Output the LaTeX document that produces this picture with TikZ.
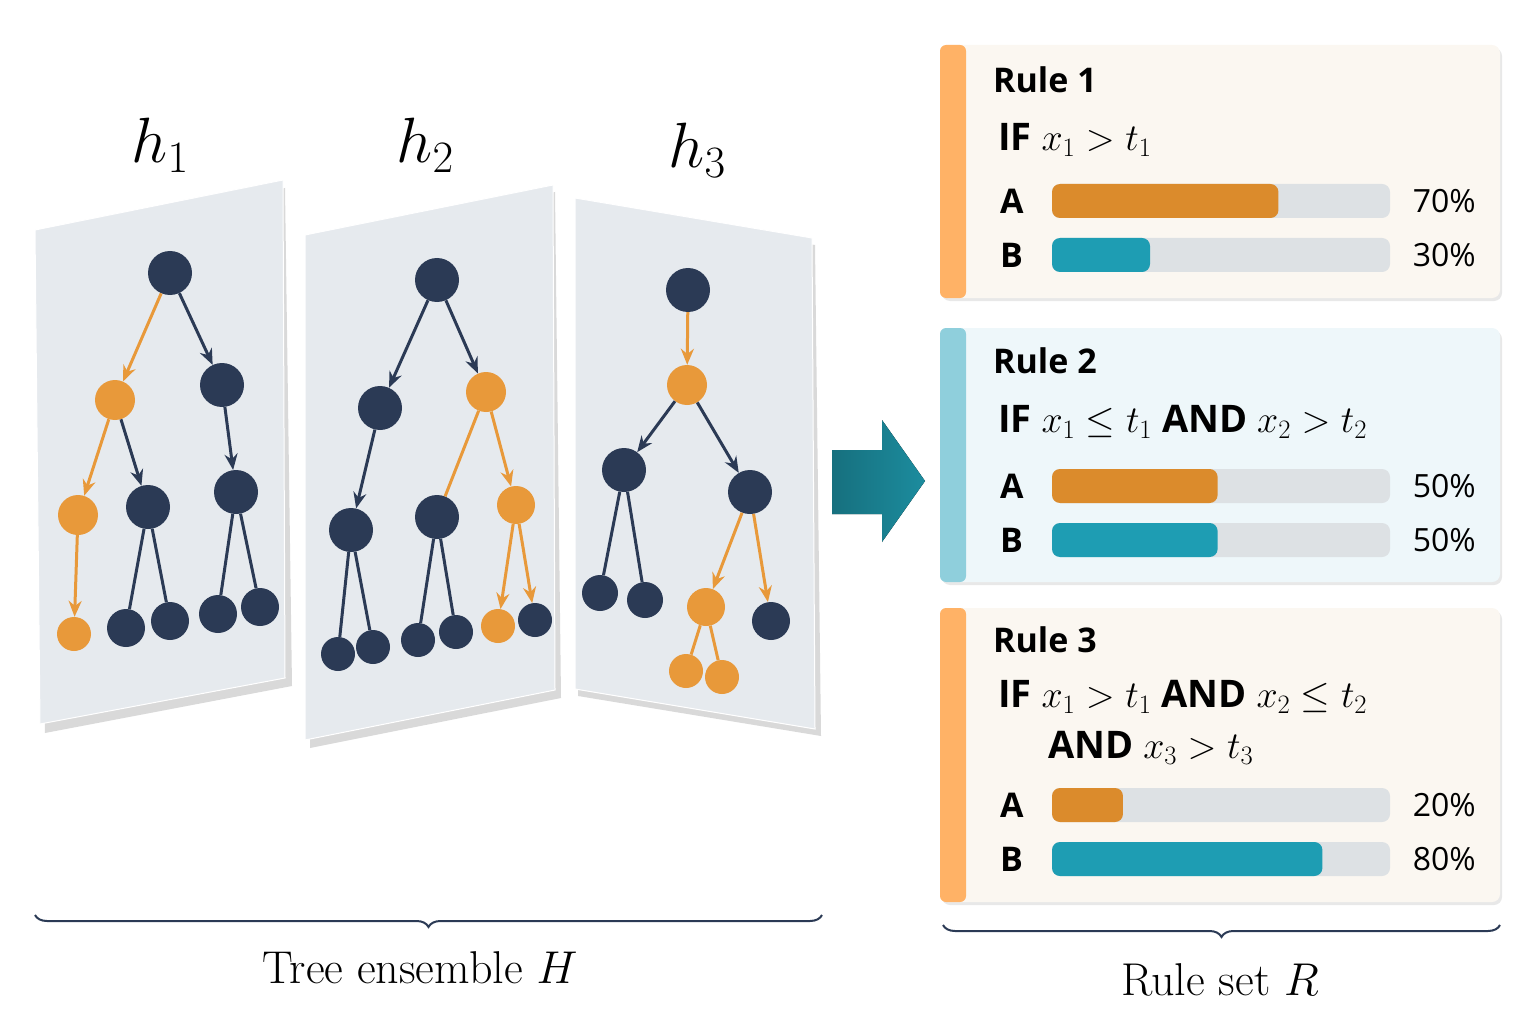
\RequirePackage{fix-cm}
\documentclass[tikz,border=0pt]{standalone}
\usepackage{amsmath}
\usepackage{fontspec}
\setsansfont{Open Sans}
\usepackage{tikz}
\usetikzlibrary{arrows.meta}
\usetikzlibrary{decorations.pathreplacing}
\usetikzlibrary{shadows}

\definecolor{navy}{HTML}{2B3A55}
\definecolor{amber}{HTML}{E8993A}
\definecolor{barorange}{HTML}{DB8B2C}
\definecolor{barteal}{HTML}{1E9DB3}
\definecolor{track}{HTML}{DDE1E4}
\definecolor{panel}{HTML}{E6EAEE}
\definecolor{cream}{HTML}{FBF7F1}
\definecolor{icecard}{HTML}{EEF7FA}
\definecolor{stripteal}{HTML}{8FCFDC}
\definecolor{tealarrow}{HTML}{1C8C9E}

\tikzset{
  dark/.style={circle, fill=navy, minimum size=44pt, inner sep=0pt},
  hot/.style={circle, fill=amber, minimum size=40pt, inner sep=0pt},
  darr/.style={draw=navy, line width=3pt, -{Stealth[length=16pt,width=13pt]}},
  oarr/.style={draw=amber, line width=3pt, -{Stealth[length=16pt,width=13pt]}},
  dline/.style={draw=navy, line width=3pt},
  oline/.style={draw=amber, line width=3pt},
  card/.style={rounded corners=8pt, drop shadow={opacity=0.18, shadow xshift=2pt, shadow yshift=-3pt}},
  ruletext/.style={anchor=west, font=\sffamily\bfseries\fontsize{34}{40}\selectfont, inner sep=0pt},
  condtext/.style={anchor=west, font=\sffamily\bfseries\fontsize{38}{46}\selectfont, inner sep=0pt},
  pct/.style={anchor=east, font=\sffamily\fontsize{32}{38}\selectfont, inner sep=0pt},
  hlabel/.style={font=\fontsize{64}{70}\selectfont},
  bottomlabel/.style={font=\fontsize{46}{52}\selectfont},
}

\begin{document}
\begin{tikzpicture}[x=1pt, y=-1pt]
        \useasboundingbox (0,0) rectangle (1536,1024);

        % panels
        \fill[gray!30] (40,238) -- (285,188) -- (292,686) -- (45,733) -- cycle;
        \fill[panel, draw=white, line width=1pt] (35,230) -- (283,180) -- (285,678) -- (40,724) -- cycle;
        \fill[gray!30] (310,242) -- (555,192) -- (561,698) -- (310,748) -- cycle;
        \fill[panel, draw=white, line width=1pt] (305,235) -- (553,185) -- (555,690) -- (305,740) -- cycle;
        \fill[gray!30] (578,206) -- (815,245) -- (821,736) -- (578,696) -- cycle;
        \fill[panel, draw=white, line width=1pt] (575,198) -- (812,238) -- (815,729) -- (575,689) -- cycle;

        \node[hlabel] (h1) at (160,145) {$h_1$};
        \node[hlabel] (h2) at (425,145) {$h_2$};
        \node[hlabel] (h3) at (697,150) {$h_3$};

        % tree 1
        \node[dark] (a0) at (170,273) {};
        \node[hot] (a1) at (115,400) {};
        \node[dark] (a2) at (222,385) {};
        \node[hot] (a3) at (78,515) {};
        \node[dark] (a4) at (148,507) {};
        \node[hot, minimum size=34pt] (a5) at (74,634) {};
        \node[dark, minimum size=38pt] (a6) at (126,628) {};
        \node[dark, minimum size=38pt] (a7) at (170,621) {};
        \node[dark] (a8) at (236,492) {};
        \node[dark, minimum size=38pt] (a9) at (218,614) {};
        \node[dark, minimum size=38pt] (a10) at (260,607) {};
        \draw[oarr] (a0) -- (a1);
        \draw[darr] (a0) -- (a2);
        \draw[oarr] (a1) -- (a3);
        \draw[darr] (a1) -- (a4);
        \draw[oarr] (a3) -- (a5);
        \draw[dline] (a4) -- (a6);
        \draw[dline] (a4) -- (a7);
        \draw[darr] (a2) -- (a8);
        \draw[dline] (a8) -- (a9);
        \draw[dline] (a8) -- (a10);

        % tree 2
        \node[dark] (b0) at (437,280) {};
        \node[dark] (b1) at (380,408) {};
        \node[hot] (b2) at (486,392) {};
        \node[dark] (b3) at (351,530) {};
        \node[dark, minimum size=34pt] (b4) at (338,654) {};
        \node[dark, minimum size=34pt] (b5) at (373,647) {};
        \node[dark] (b6) at (437,517) {};
        \node[dark, minimum size=34pt] (b7) at (418,640) {};
        \node[dark, minimum size=34pt] (b8) at (456,632) {};
        \node[hot, minimum size=38pt] (b9) at (516,505) {};
        \node[hot, minimum size=34pt] (b10) at (498,626) {};
        \node[dark, minimum size=34pt] (b11) at (535,620) {};
        \draw[darr] (b0) -- (b1);
        \draw[darr] (b0) -- (b2);
        \draw[darr] (b1) -- (b3);
        \draw[dline] (b3) -- (b4);
        \draw[dline] (b3) -- (b5);
        \draw[oline] (b2) -- (b6);
        \draw[oarr] (b2) -- (b9);
        \draw[dline] (b6) -- (b7);
        \draw[dline] (b6) -- (b8);
        \draw[oarr] (b9) -- (b10);
        \draw[oarr] (b9) -- (b11);

        % tree 3
        \node[dark] (c0) at (688,290) {};
        \node[hot] (c1) at (687,385) {};
        \node[dark] (c2) at (624,470) {};
        \node[dark] (c3) at (750,492) {};
        \node[dark, minimum size=36pt] (c4) at (600,593) {};
        \node[dark, minimum size=36pt] (c5) at (645,600) {};
        \node[hot, minimum size=38pt] (c6) at (706,607) {};
        \node[dark, minimum size=38pt] (c7) at (771,621) {};
        \node[hot, minimum size=34pt] (c8) at (686,671) {};
        \node[hot, minimum size=34pt] (c9) at (722,677) {};
        \draw[oarr] (c0) -- (c1);
        \draw[darr] (c1) -- (c2);
        \draw[darr] (c1) -- (c3);
        \draw[dline] (c2) -- (c4);
        \draw[dline] (c2) -- (c5);
        \draw[oarr] (c3) -- (c6);
        \draw[oarr] (c3) -- (c7);
        \draw[oline] (c6) -- (c8);
        \draw[oline] (c6) -- (c9);

        % block arrow
        \fill[left color=tealarrow!80!black, right color=tealarrow] (832,450) -- (882,450) -- (882,420) -- (925,481) -- (882,542) -- (882,514) -- (832,514) -- cycle;

        % rule cards
        \fill[cream, card] (940,45) rectangle (1500,298);
        \fill[orange!60, rounded corners=6pt] (940,45) rectangle (966,298);
        \fill[icecard, card] (940,328) rectangle (1500,582);
        \fill[stripteal, rounded corners=6pt] (940,328) rectangle (966,582);
        \fill[cream, card] (940,608) rectangle (1500,902);
        \fill[orange!60, rounded corners=6pt] (940,608) rectangle (966,902);

        \node[ruletext] (r1) at (993,80) {Rule 1};
        \node[condtext] (c1t) at (998,140) {IF $x_1 > t_1$};
        \node[ruletext] (r2) at (993,361) {Rule 2};
        \node[condtext] (c2t) at (998,422) {IF $x_1 \leq t_1$ AND $x_2 > t_2$};
        \node[ruletext] (r3) at (993,640) {Rule 3};
        \node[condtext] (c3t) at (998,697) {IF $x_1 > t_1$ AND $x_2 \leq t_2$};
        \node[condtext] (c3u) at (1048,748) {AND $x_3 > t_3$};

        % bars: y, label, fraction, colour, percent
        \foreach \y/\lab/\frac/\col/\p in {201/A/0.67/barorange/70\%, 255/B/0.29/barteal/30\%,
                                           486/A/0.49/barorange/50\%, 540/B/0.49/barteal/50\%,
                                           805/A/0.21/barorange/20\%, 859/B/0.80/barteal/80\%}{
          \node[ruletext] at (1000,\y) {\lab};
          \fill[track, rounded corners=8pt] (1052,\y-17) rectangle (1390,\y+17);
          \fill[\col, rounded corners=8pt] (1052,\y-17) rectangle ({1052+338*\frac},\y+17);
          \node[pct] at (1476,\y) {\p};
        }

        % braces
        \draw[navy, line width=2pt, decorate, decoration={brace, amplitude=12pt}] (822,915) -- (35,915);
        \node[bottomlabel] (ens) at (420,968) {Tree ensemble $H$};
        \draw[navy, line width=2pt, decorate, decoration={brace, amplitude=12pt}] (1500,925) -- (943,925);
        \node[bottomlabel] (rs) at (1220,980) {Rule set $R$};
    \end{tikzpicture}
\end{document}
